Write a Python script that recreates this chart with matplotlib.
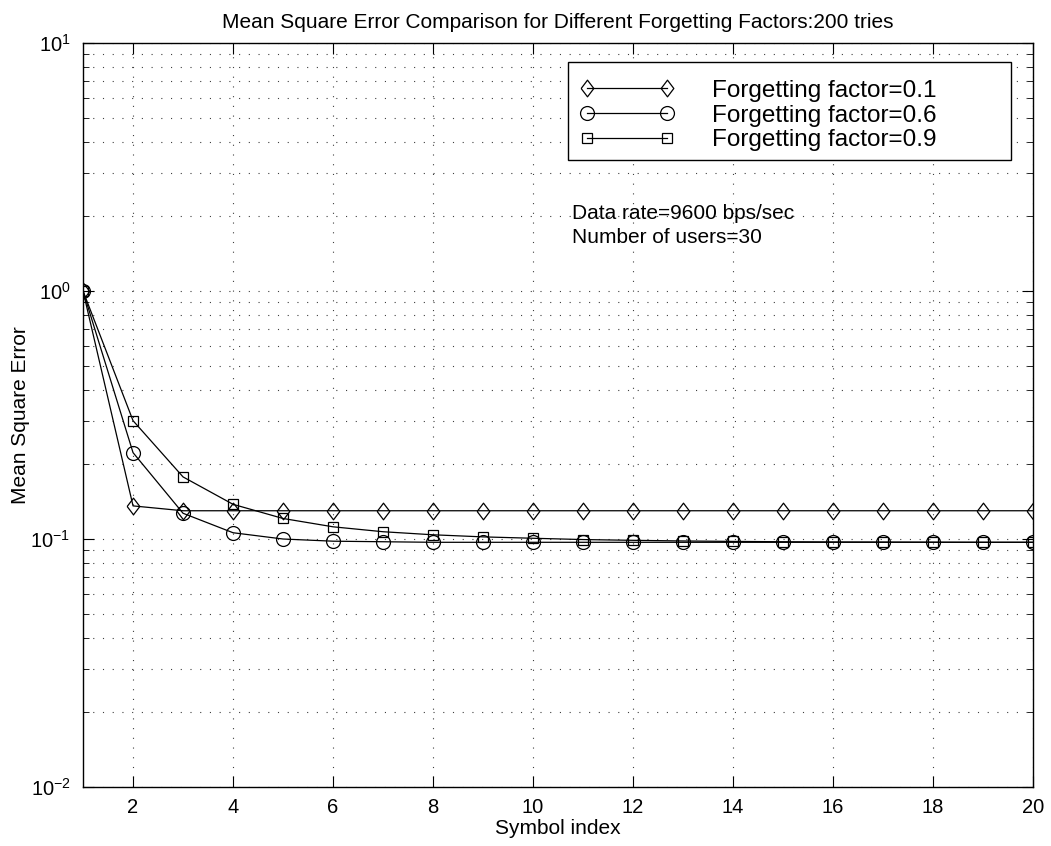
import matplotlib
matplotlib.use("Agg")
import matplotlib.pyplot as plt
from matplotlib.ticker import LogLocator, NullFormatter
from matplotlib.legend_handler import HandlerLine2D
from matplotlib.patches import Rectangle

plt.rcParams['font.family'] = ['Liberation Sans', 'DejaVu Sans']
plt.rcParams['mathtext.fontset'] = 'custom'
plt.rcParams['mathtext.rm'] = 'Liberation Sans'
plt.rcParams['lines.scale_dashes'] = False

# data
symbol_index = list(range(1, 21))
mse_01 = [1.0, 0.136, 0.130, 0.130, 0.130, 0.130, 0.130, 0.130, 0.130, 0.130,
          0.130, 0.130, 0.130, 0.130, 0.130, 0.130, 0.130, 0.130, 0.130, 0.130]
mse_06 = [1.0, 0.223, 0.127, 0.106, 0.100, 0.098, 0.0975, 0.097, 0.097, 0.097,
          0.097, 0.097, 0.097, 0.097, 0.097, 0.097, 0.097, 0.097, 0.097, 0.097]
mse_09 = [1.0, 0.300, 0.178, 0.138, 0.121, 0.112, 0.107, 0.104, 0.102, 0.1007,
          0.0995, 0.0988, 0.0982, 0.0978, 0.0975, 0.0973, 0.0972, 0.0971, 0.097, 0.097]
labels = ['Forgetting factor=0.1', 'Forgetting factor=0.6', 'Forgetting factor=0.9']

diamond = [(-0.38, 0), (0, 0.5), (0.38, 0), (0, -0.5), (-0.38, 0)]

fig = plt.figure(figsize=(10.51, 8.46), dpi=100)
ax = fig.add_axes([0.079, 0.0697, 0.904, 0.8795])

style = dict(color='black', lw=0.9, mfc='none', mec='black', mew=0.9)
l1, = ax.semilogy(symbol_index, mse_01, marker=diamond, ms=12, label=labels[0], **style)
l2, = ax.semilogy(symbol_index, mse_06, marker='o', ms=10, label=labels[1], **style)
l3, = ax.semilogy(symbol_index, mse_09, marker='s', ms=7.7, label=labels[2], **style)

ax.set_xlim(1, 20)
ax.set_ylim(1e-2, 1e1)
ax.set_xticks(range(2, 21, 2))
ax.yaxis.set_major_locator(LogLocator(base=10, numticks=10))
ax.yaxis.set_minor_locator(LogLocator(base=10, subs=range(2, 10), numticks=10))
ax.yaxis.set_minor_formatter(NullFormatter())

ax.tick_params(which='both', direction='in', top=True, right=True, labelsize=14.5)
ax.tick_params(which='major', length=8, width=0.8)
ax.tick_params(which='minor', length=4, width=0.6)
ax.tick_params(axis='x', pad=8)
ax.tick_params(axis='y', pad=9)
for s in ax.spines.values():
    s.set_linewidth(1.0)

ax.grid(True, which='major', axis='both', color='0.25', lw=0.8, linestyle=(0, (0.8, 6.2)))
ax.grid(True, which='minor', axis='y', color='0.25', lw=0.8, linestyle=(0, (0.8, 6.2)))

ax.set_title('Mean Square Error Comparison for Different Forgetting Factors:200 tries',
             fontsize=15, pad=11)
ax.set_xlabel('Symbol index', fontsize=15, labelpad=1)
ax.set_ylabel('Mean Square Error', fontsize=15, labelpad=0.5)

# legend box drawn as a plain frame, MATLAB style
ax.add_patch(Rectangle((0.5105, 0.8427), 0.4663, 0.1317, transform=ax.transAxes,
                       facecolor='white', edgecolor='black', lw=1.0, zorder=4))
leg = ax.legend(handles=[l1, l2, l3], loc='upper left', bbox_to_anchor=(0.5305, 0.9503),
                numpoints=2, fontsize=17.5, frameon=False, borderpad=0, borderaxespad=0,
                handlelength=3.29, handletextpad=1.85, labelspacing=0.11,
                handler_map={l: HandlerLine2D(marker_pad=0) for l in (l1, l2, l3)})
leg.set_zorder(5)

ax.text(10.78, 2.05, 'Data rate=9600 bps/sec', fontsize=15, va='center')
ax.text(10.78, 1.65, 'Number of users=30', fontsize=15, va='center')

fig.savefig('out.png', dpi=100)
